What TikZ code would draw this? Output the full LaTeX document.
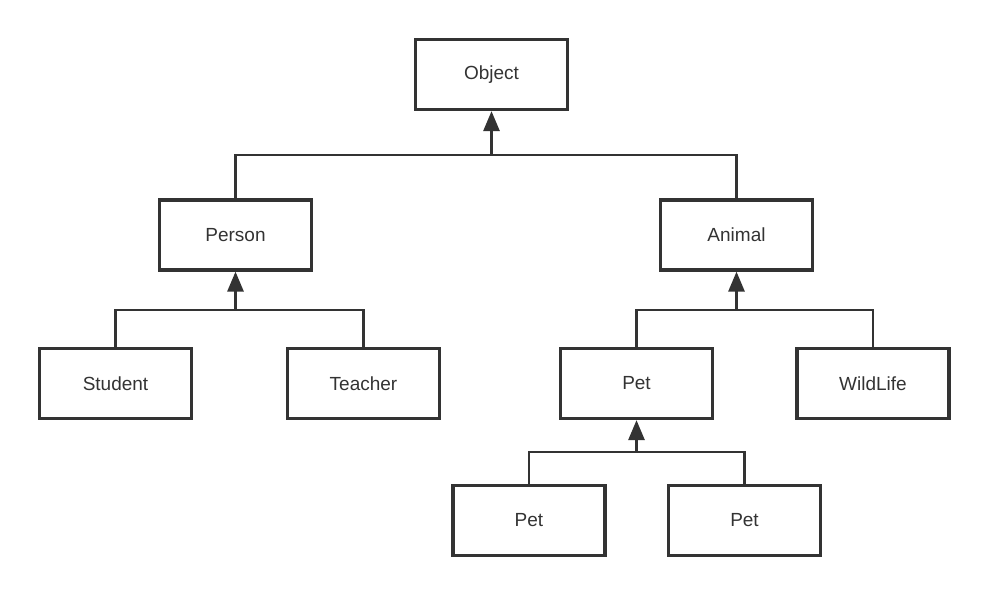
\documentclass[tikz,border=0pt]{standalone}
\usepackage{fontspec}
\setmainfont{Liberation Sans}
\usetikzlibrary{arrows.meta}
\begin{document}
\begin{tikzpicture}[x=1pt,y=-1pt,
  cls/.style={draw=black!80,line width=3.2pt,minimum width=152pt,minimum height=70pt,inner sep=0pt,font=\fontsize{19}{22}\selectfont,text=black!80},
  conn/.style={draw=black!80,line width=2.8pt},
  inh/.style={conn,-{Triangle[width=16pt,length=20pt]}}]
\useasboundingbox (0,0) rectangle (987,595);
\node[cls] (object) at (491.5,74.5) {Object};
\node[cls] (person) at (235.5,235) {Person};
\node[cls] (animal) at (736.5,235) {Animal};
\node[cls] (student) at (115.5,383.5) {Student};
\node[cls] (teacher) at (363.5,383.5) {Teacher};
\node[cls] (pet) at (636.5,383.5) {Pet};
\node[cls] (wild) at (873,383.5) {WildLife};
\node[cls] (pet1) at (529,520.5) {Pet};
\node[cls] (pet2) at (744.5,520.5) {Pet};
\coordinate (j1) at (491.5,155);
\coordinate (j2) at (235.5,310);
\coordinate (j3) at (736.5,310);
\coordinate (j4) at (636.5,452);
\draw[conn] (person.north) |- (j1) -| (animal.north);
\draw[inh] (j1) -- (object.south);
\draw[conn] (student.north) |- (j2) -| (teacher.north);
\draw[inh] (j2) -- (person.south);
\draw[conn] (pet.north) |- (j3) -| (wild.north);
\draw[inh] (j3) -- (animal.south);
\draw[conn] (pet1.north) |- (j4) -| (pet2.north);
\draw[inh] (j4) -- (pet.south);
\end{tikzpicture}
\end{document}
